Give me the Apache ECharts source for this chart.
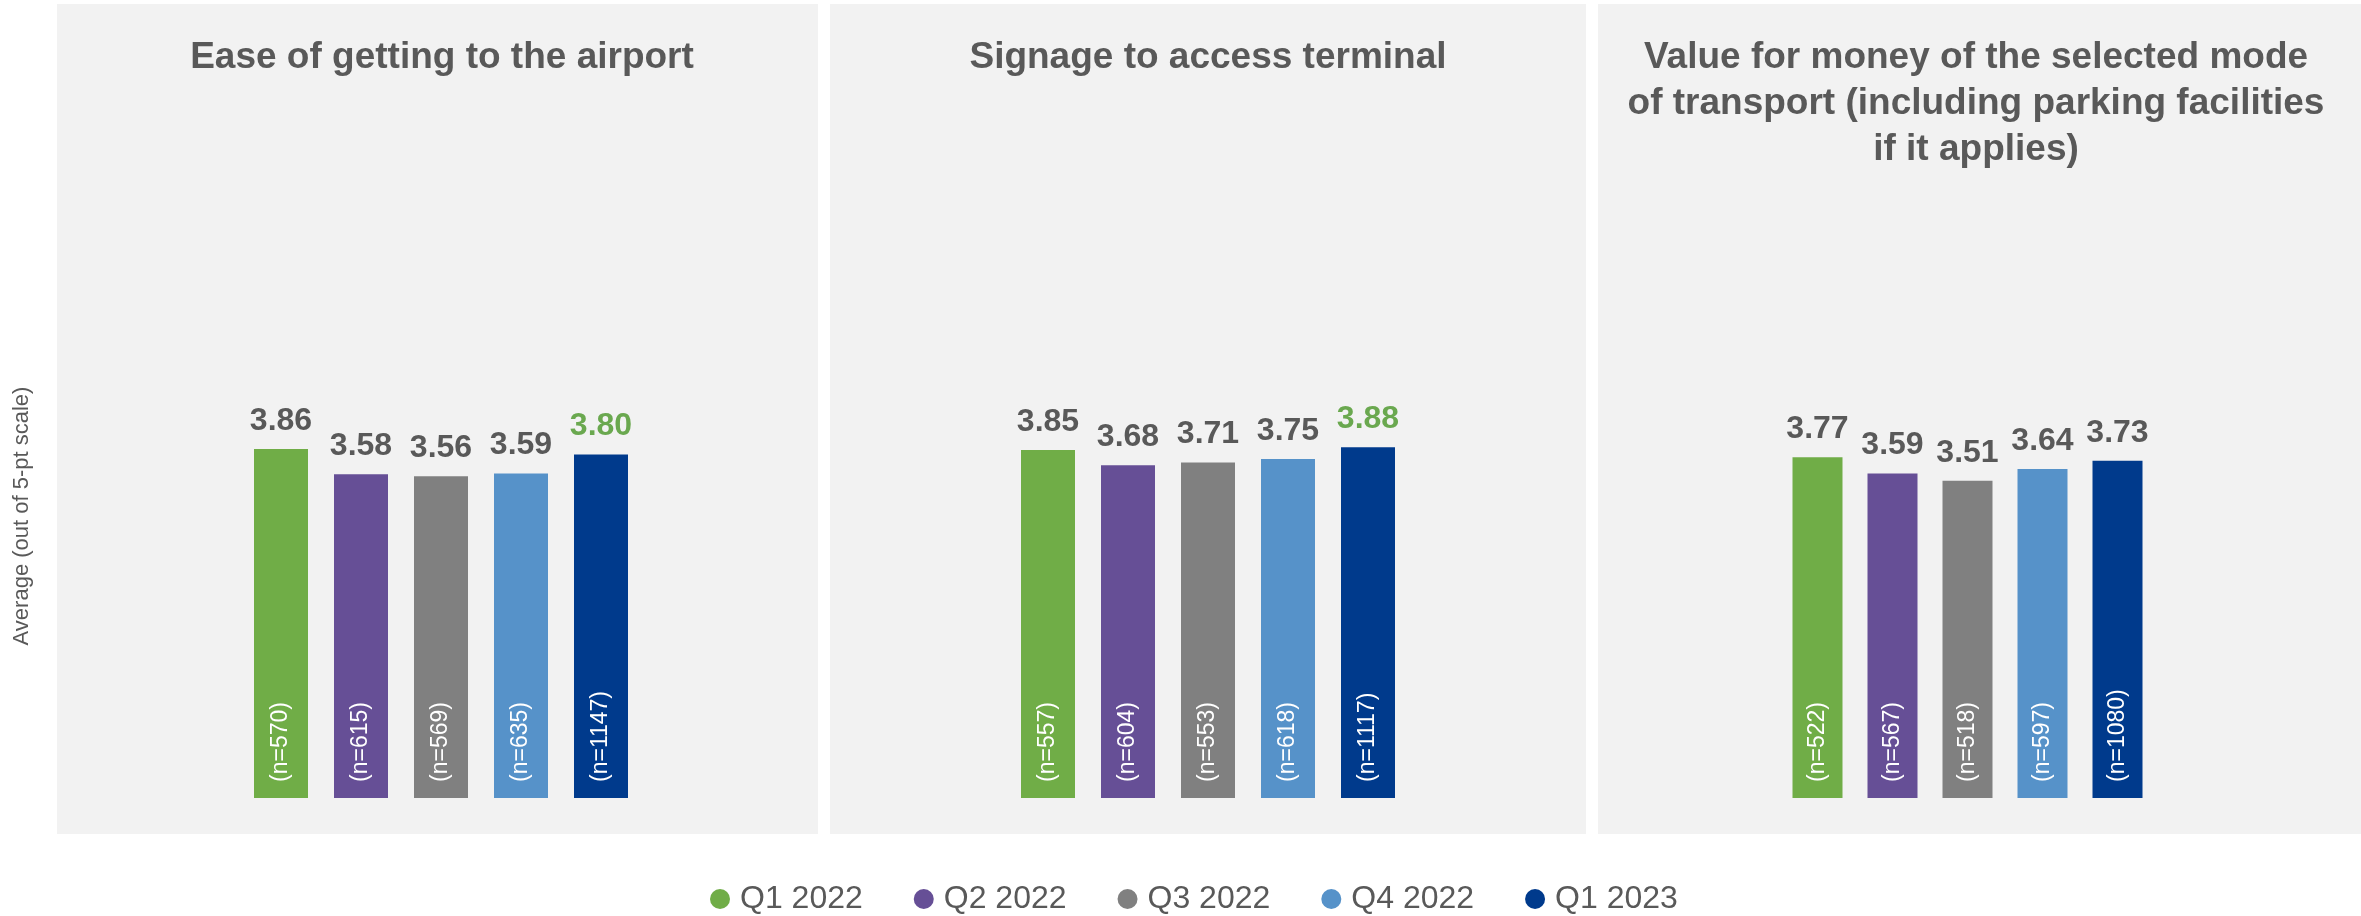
<!DOCTYPE html>
<html>
<head>
<meta charset="utf-8">
<script src="https://cdn.jsdelivr.net/npm/echarts@6/dist/echarts.min.js"></script>
<style>
html,body{margin:0;padding:0;background:#fff;}
#c{width:2361px;height:916px;}
</style>
</head>
<body>
<div id="c"></div>
<script>
// ---- data ----
var quarters = ['Q1 2022', 'Q2 2022', 'Q3 2022', 'Q4 2022', 'Q1 2023'];
var colors = ['#70AD47', '#664F96', '#808080', '#5692C9', '#003A8C'];
var panelTitles = [
  'Ease of getting to the airport',
  'Signage to access terminal',
  'Value for money of the selected mode\nof transport (including parking facilities\nif it applies)'
];
var easeValues = [3.86, 3.58, 3.56, 3.59, 3.80];
var easeN = [570, 615, 569, 635, 1147];
var signageValues = [3.85, 3.68, 3.71, 3.75, 3.88];
var signageN = [557, 604, 553, 618, 1117];
var moneyValues = [3.77, 3.59, 3.51, 3.64, 3.73];
var moneyN = [522, 567, 518, 597, 1080];
var easeHighlight = [false, false, false, false, true];
var signageHighlight = [false, false, false, false, true];
var moneyHighlight = [false, false, false, false, false];
var yAxisTitle = 'Average (out of 5-pt scale)';

// ---- layout ----
var FONT = "'Liberation Sans', Arial, sans-serif";
var TXT = '#595959';
var HL = '#6AA84F';
var panels = [
  {x: 57, w: 761, gridLeft: 241, gridWidth: 400, barW: 54, titleX: 437, vals: easeValues, ns: easeN, hl: easeHighlight},
  {x: 830, w: 756, gridLeft: 1008, gridWidth: 400, barW: 54, titleX: 1203, vals: signageValues, ns: signageN, hl: signageHighlight},
  {x: 1598, w: 763, gridLeft: 1780, gridWidth: 375, barW: 50, titleX: 1971, vals: moneyValues, ns: moneyN, hl: moneyHighlight}
];

var grids = [], xAxes = [], yAxes = [], series = [], titles = [], graphics = [];
panels.forEach(function (p, g) {
  graphics.push({type: 'rect', z: -10, shape: {x: p.x, y: 4, width: p.w, height: 830}, style: {fill: '#F2F2F2'}});
  titles.push({
    text: panelTitles[g], left: p.titleX, top: 30, textAlign: 'center',
    textStyle: {fontFamily: FONT, fontSize: 37, fontWeight: 'bold', color: TXT, lineHeight: 46}
  });
  grids.push({left: p.gridLeft, width: p.gridWidth, top: 346, bottom: 118, containLabel: false});
  xAxes.push({type: 'category', gridIndex: g, data: quarters, axisLine: {show: false}, axisTick: {show: false}, axisLabel: {show: false}, splitLine: {show: false}});
  yAxes.push({type: 'value', gridIndex: g, min: 0, max: 5, axisLine: {show: false}, axisTick: {show: false}, axisLabel: {show: false}, splitLine: {show: false}});
  quarters.forEach(function (q, i) {
    var d = quarters.map(function (_, j) { return j === i ? p.vals[i] : '-'; });
    series.push({
      type: 'bar', name: q, xAxisIndex: g, yAxisIndex: g, data: d,
      barWidth: p.barW, barGap: '-100%', itemStyle: {color: colors[i]},
      label: {
        show: true, position: 'top', distance: 12,
        formatter: function (prm) { return prm.value.toFixed(2); },
        fontFamily: FONT, fontSize: 32, fontWeight: 'bold', color: p.hl[i] ? HL : TXT
      },
      emphasis: {disabled: true}
    });
    var nv = p.ns[i];
    series.push({
      type: 'bar', name: q, xAxisIndex: g, yAxisIndex: g, data: d,
      barWidth: p.barW, barGap: '-100%', itemStyle: {color: 'rgba(0,0,0,0)'},
      label: {
        show: true, position: 'insideBottom', distance: 16, rotate: 90,
        align: 'left', verticalAlign: 'middle',
        formatter: '(n=' + nv + ')',
        fontFamily: FONT, fontSize: 23, color: '#FFFFFF'
      },
      emphasis: {disabled: true}
    });
  });
});

graphics.push({
  type: 'text', x: 22, y: 516, rotation: Math.PI / 2,
  style: {text: yAxisTitle, font: '22px ' + FONT, fill: TXT, align: 'center', verticalAlign: 'middle'}
});

var chart = echarts.init(document.getElementById('c'), null, {renderer: 'canvas'});
chart.setOption({
  backgroundColor: '#FFFFFF',
  animation: false,
  title: titles,
  graphic: graphics,
  legend: {
    left: 710, top: 883, padding: 0, icon: 'circle', itemWidth: 20, itemHeight: 20, itemGap: 51,
    textStyle: {fontFamily: FONT, fontSize: 32, color: TXT, padding: [0, 0, 0, 5]},
    data: quarters.map(function (q, i) { return {name: q, itemStyle: {color: colors[i]}}; })
  },
  grid: grids,
  xAxis: xAxes,
  yAxis: yAxes,
  series: series
});
</script>
</body>
</html>
